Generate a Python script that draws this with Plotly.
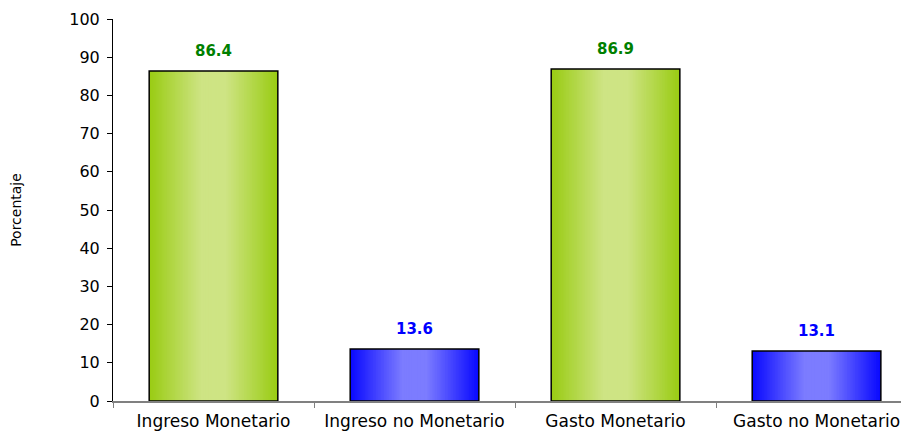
import plotly.graph_objects as go

categories = ["Ingreso Monetario", "Ingreso no Monetario", "Gasto Monetario", "Gasto no Monetario"]
values = [86.4, 13.6, 86.9, 13.1]
value_labels = ["86.4", "13.6", "86.9", "13.1"]
y_ticks = [0, 10, 20, 30, 40, 50, 60, 70, 80, 90, 100]

# style
GREEN_DARK = (154, 204, 20)
GREEN_LIGHT = (206, 228, 132)
BLUE_DARK = (10, 10, 255)
BLUE_LIGHT = (124, 124, 255)
bar_kind = ["g", "b", "g", "b"]
label_colors = ["#008000", "#0000FF", "#008000", "#0000FF"]
BAR_W = 0.64
N = 40

def mix(a, b, t):
    return "rgb(%d,%d,%d)" % tuple(round(a[i] + (b[i] - a[i]) * t) for i in range(3))

fig = go.Figure()
for k in range(N):
    d = 1 - k / N
    t = min(max((d - 0.2) / 0.8, 0), 1)
    cols = []
    for kind in bar_kind:
        if kind == "g":
            cols.append(mix(GREEN_LIGHT, GREEN_DARK, t))
        else:
            cols.append(mix(BLUE_LIGHT, BLUE_DARK, t))
    fig.add_trace(go.Bar(
        x=categories, y=values, width=[BAR_W * d] * len(values),
        marker=dict(color=cols, line=dict(width=0)),
        hoverinfo="skip", showlegend=False,
    ))

fig.add_trace(go.Bar(
    x=categories, y=values, width=[BAR_W] * len(values),
    marker=dict(color="rgba(0,0,0,0)", line=dict(color="black", width=1.5)),
    showlegend=False,
))

for c, v, lab, col in zip(categories, values, value_labels, label_colors):
    fig.add_annotation(x=c, y=v, text="<b>%s</b>" % lab, showarrow=False,
                       yanchor="bottom", yshift=9,
                       font=dict(family="DejaVu Sans", size=15, color=col))

fig.update_layout(
    width=901, height=423,
    margin=dict(l=105, r=0, t=11, b=30),
    paper_bgcolor="white", plot_bgcolor="white",
    barmode="overlay",
    font=dict(family="DejaVu Sans", color="black"),
)
fig.update_xaxes(
    range=[-0.5, 3.46], showline=True, linecolor="#808080", linewidth=1.5,
    ticks="outside", tickson="boundaries", ticklen=5, tickcolor="#808080",
    ticklabelstandoff=4,
    tickfont=dict(size=17, family="DejaVu Sans"), showgrid=False,
)
fig.update_yaxes(
    range=[0, 100], tickvals=y_ticks, showline=True, linecolor="black", linewidth=1,
    ticks="outside", ticklen=5, tickcolor="black", ticklabelstandoff=4,
    tickfont=dict(size=16, family="DejaVu Sans"), showgrid=False, zeroline=False,
    title=dict(text="Porcentaje", font=dict(size=14, family="DejaVu Sans"), standoff=44),
)

fig.write_html("out.html")
